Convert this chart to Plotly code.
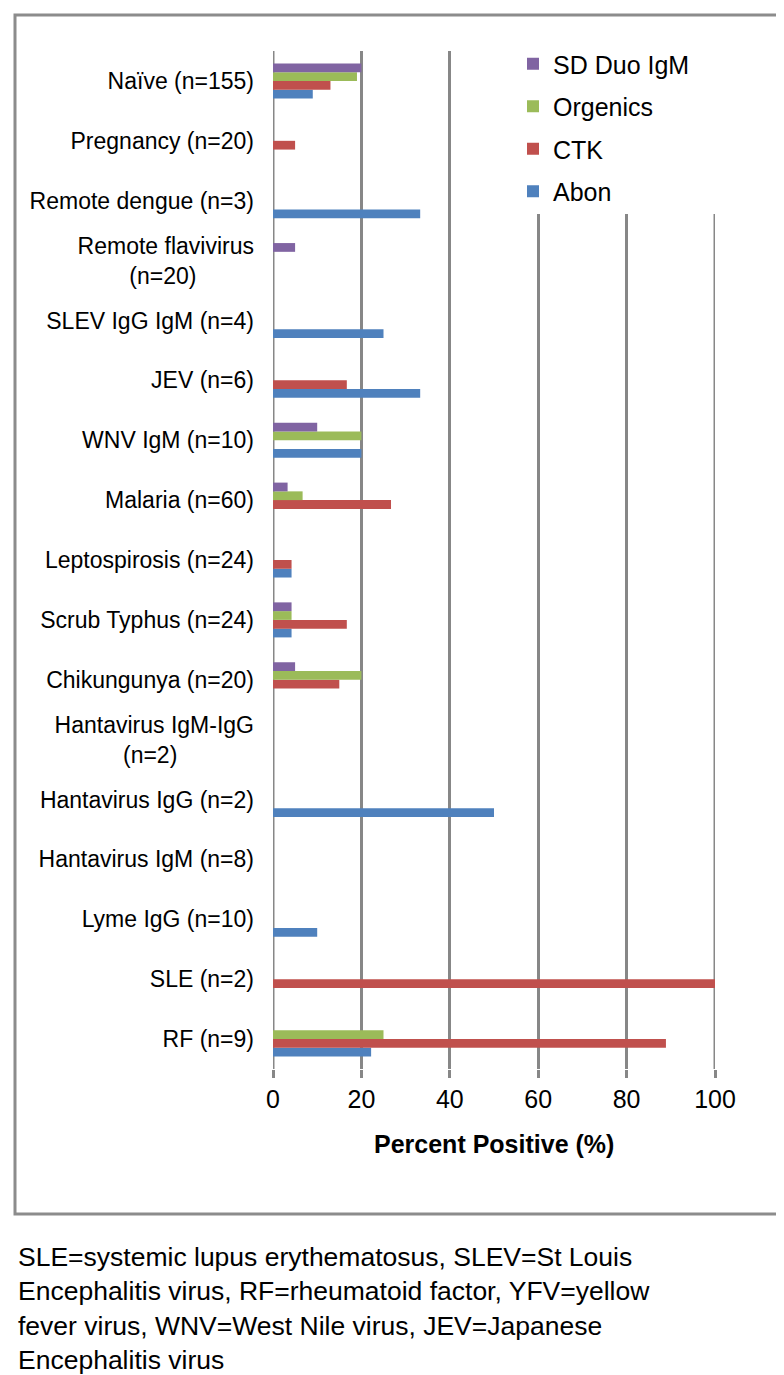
import plotly.graph_objects as go

NB = "\u00a0"
categories = [
    "Naïve (n=155)", "Pregnancy (n=20)", "Remote dengue (n=3)",
    "Remote flavivirus<br>(n=20)" + NB * 9, "SLEV IgG IgM (n=4)", "JEV (n=6)",
    "WNV IgM (n=10)", "Malaria (n=60)", "Leptospirosis (n=24)",
    "Scrub Typhus (n=24)", "Chikungunya (n=20)",
    "Hantavirus IgM-IgG<br>(n=2)" + NB * 12, "Hantavirus IgG (n=2)",
    "Hantavirus IgM (n=8)", "Lyme IgG (n=10)", "SLE (n=2)", "RF (n=9)",
]
abon = [9, 0, 33.3, 0, 25, 33.3, 20, 0, 4.2, 4.2, 0, 0, 50, 0, 10, 0, 22.2]
ctk = [13, 5, 0, 0, 0, 16.7, 0, 26.7, 4.2, 16.7, 15, 0, 0, 0, 0, 100, 88.9]
orgenics = [19, 0, 0, 0, 0, 0, 20, 6.7, 0, 4.2, 20, 0, 0, 0, 0, 0, 25]
sd_duo = [20, 0, 0, 5, 0, 0, 10, 3.3, 0, 4.2, 5, 0, 0, 0, 0, 0, 0]

series_names = ["Abon", "CTK", "Orgenics", "SD Duo IgM"]
series_values = [abon, ctk, orgenics, sd_duo]
series_colors = ["#4F81BD", "#C0504D", "#9BBB59", "#8064A2"]
legend_rank = [4, 3, 2, 1]

x_ticks = [0, 20, 40, 60, 80, 100]
x_title = "Percent Positive (%)"
caption = ("SLE=systemic lupus erythematosus, SLEV=St Louis<br>"
           "Encephalitis virus, RF=rheumatoid factor, YFV=yellow<br>"
           "fever virus, WNV=West Nile virus, JEV=Japanese<br>"
           "Encephalitis virus")

FONT = "Liberation Sans, Arial, sans-serif"
GRID = "#878787"

W, H = 784, 1375
PL, PR, PT, PB = 265, 707, 43, 1061


def px_x(v):
    return (v - PL) / (PR - PL)


def px_y(v):
    return (PB - v) / (PB - PT)


fig = go.Figure()
for name, vals, col, rk in zip(series_names, series_values, series_colors, legend_rank):
    fig.add_trace(go.Bar(
        y=categories, x=vals, name=name, orientation="h",
        marker=dict(color=col, line=dict(width=0)),
        legendgroup=name, legendrank=rk,
    ))

edge_lines = [
    dict(type="line", xref="x", yref="paper", layer="below",
         x0=v, x1=v, y0=0, y1=1, line=dict(color=GRID, width=3))
    for v in (x_ticks[0], x_ticks[-1])
]

fig.update_layout(
    width=W, height=H,
    margin=dict(l=PL, r=W - PR, t=PT, b=H - PB, autoexpand=False),
    paper_bgcolor="white", plot_bgcolor="white",
    barmode="group", bargap=0.415, bargroupgap=0,
    font=dict(family=FONT, color="black"),
    showlegend=True,
    legend=dict(
        traceorder="grouped", tracegroupgap=7,
        x=px_x(505), y=px_y(33), xanchor="left", yanchor="top",
        bgcolor="rgba(0,0,0,0)", borderwidth=0,
        font=dict(size=25, family=FONT, color="black"),
    ),
    xaxis=dict(
        range=[0, 100], tickvals=x_ticks, ticktext=[str(t) for t in x_ticks],
        showgrid=True, gridcolor=GRID, gridwidth=3,
        zeroline=False, showline=False,
        ticks="outside", ticklen=8, tickwidth=3, tickcolor=GRID,
        tickfont=dict(size=25, family=FONT, color="black"),
        fixedrange=True,
    ),
    yaxis=dict(
        categoryorder="array", categoryarray=categories[::-1],
        range=[-0.5, len(categories) - 0.5],
        showgrid=False, zeroline=False, showline=False,
        ticks="", ticklabelstandoff=18,
        tickfont=dict(size=23, family=FONT, color="black"),
        fixedrange=True,
    ),
    shapes=edge_lines + [
        dict(type="rect", xref="paper", yref="paper", layer="above",
             x0=px_x(470), x1=px_x(722), y0=px_y(206), y1=px_y(30),
             fillcolor="white", line=dict(width=0)),
        dict(type="rect", xref="paper", yref="paper", layer="above",
             x0=px_x(7), x1=px_x(776), y0=px_y(1206), y1=px_y(7),
             fillcolor="rgba(0,0,0,0)", line=dict(color="#8c8c8c", width=3)),
    ],
    annotations=[
        dict(text="<b>" + x_title + "</b>", xref="paper", yref="paper",
             x=px_x(486), y=px_y(1136), xanchor="center", yanchor="middle",
             showarrow=False, font=dict(size=25, family=FONT, color="black")),
        dict(text=caption, xref="paper", yref="paper",
             x=px_x(8), y=px_y(1300), xanchor="left", yanchor="middle",
             align="left", showarrow=False,
             font=dict(size=26.5, family=FONT, color="black")),
    ],
)

fig.write_html("out.html")
